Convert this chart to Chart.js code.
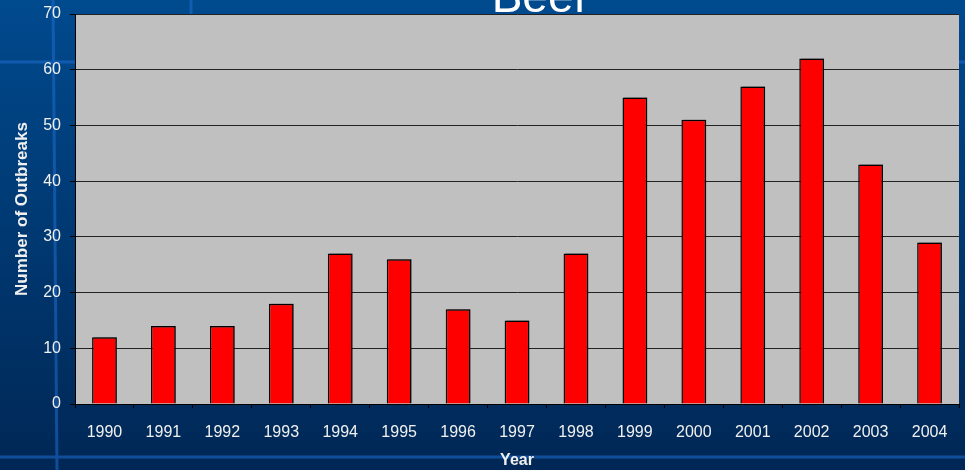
<!DOCTYPE html>
<html>
<head>
<meta charset="utf-8">
<script src="https://cdn.jsdelivr.net/npm/chart.js@4"></script>
<style>
  html, body { margin: 0; padding: 0; background: #003a75; }
  #wrap { width: 965px; height: 470px; position: relative; }
</style>
</head>
<body>
<div id="wrap"><canvas id="myChart"></canvas></div>
<script>
const years = ['1990', '1991', '1992', '1993', '1994', '1995', '1996', '1997', '1998', '1999', '2000', '2001', '2002', '2003', '2004'];
const outbreaks = [12, 14, 14, 18, 27, 26, 17, 15, 27, 55, 51, 57, 62, 43, 29];
const yTicks = [0, 10, 20, 30, 40, 50, 60, 70];

const FONT = 'Arial, "Liberation Sans", sans-serif';

// slide-style blue backdrop, grey plot area and the half hidden title
const backdrop = {
    id: 'backdrop',
    beforeDraw(chart) {
        const c = chart.ctx;
        const w = chart.width, h = chart.height;
        const g = c.createLinearGradient(0, 0, 0, h);
        g.addColorStop(0, '#004a8e');
        g.addColorStop(1, '#002755');
        c.save();
        c.fillStyle = g;
        c.fillRect(0, 0, w, h);
        c.strokeStyle = 'rgba(30,110,210,0.55)';
        c.lineWidth = 3;
        c.beginPath();
        c.moveTo(0, 62); c.lineTo(w, 62);
        c.moveTo(0, 457); c.lineTo(w, 457);
        c.moveTo(53, 0); c.lineTo(57, h);
        c.moveTo(191, 0); c.lineTo(191, 20);
        c.stroke();
        c.fillStyle = '#ffffff';
        c.font = '46px ' + FONT;
        c.textAlign = 'center';
        c.textBaseline = 'alphabetic';
        c.fillText('Beef', 539, 12);
        const a = chart.chartArea;
        c.fillStyle = '#c0c0c0';
        c.fillRect(a.left, a.top, a.right - a.left, a.bottom - a.top);
        c.strokeStyle = '#808080';
        c.lineWidth = 1;
        c.beginPath();
        c.moveTo(a.left, a.top + 0.5); c.lineTo(a.right, a.top + 0.5);
        c.stroke();
        c.restore();
    },
    // small grey drop shadow behind the bars
    beforeDatasetsDraw(chart) {
        const c = chart.ctx;
        c.save();
        c.shadowColor = 'rgba(0,0,0,0.35)';
        c.shadowOffsetX = 2;
        c.shadowOffsetY = -1;
        c.shadowBlur = 0;
    },
    afterDatasetsDraw(chart) {
        chart.ctx.restore();
    }
};

const ctx = document.getElementById('myChart');

new Chart(ctx, {
    type: 'bar',
    data: {
        labels: years,
        datasets: [{
            label: 'Outbreaks',
            data: outbreaks,
            backgroundColor: '#ff0000',
            borderColor: '#000000',
            borderWidth: 1.5,
            categoryPercentage: 1,
            barPercentage: 0.42
        }]
    },
    options: {
        responsive: true,
        maintainAspectRatio: false,
        animation: false,
        layout: { padding: { left: 0, right: 6, top: 14, bottom: 0 } },
        plugins: {
            legend: { display: false },
            tooltip: { enabled: false }
        },
        scales: {
            x: {
                offset: true,
                grid: {
                    offset: true,
                    drawOnChartArea: false,
                    drawTicks: true,
                    tickLength: 4,
                    color: '#000000'
                },
                border: { color: '#000000', width: 1 },
                ticks: {
                    color: '#f0f0f0',
                    font: { family: FONT, size: 16 },
                    padding: 15,
                    maxRotation: 0
                },
                title: {
                    display: true,
                    text: 'Year',
                    color: '#f0f0f0',
                    font: { family: FONT, size: 16, weight: 'bold' },
                    padding: { top: 4, bottom: 0 }
                },
                afterFit(scale) {
                    scale.height = 66;
                    scale.paddingLeft = 0;
                    scale.paddingRight = 0;
                }
            },
            y: {
                min: 0,
                max: 70,
                afterBuildTicks(scale) {
                    scale.ticks = yTicks.map(v => ({ value: v }));
                },
                grid: {
                    color: '#222222',
                    drawTicks: true,
                    tickLength: 5,
                    tickColor: '#000000'
                },
                border: { color: '#000000', width: 1 },
                ticks: {
                    color: '#f0f0f0',
                    font: { family: FONT, size: 16 },
                    padding: 9
                },
                title: {
                    display: true,
                    text: 'Number of Outbreaks',
                    color: '#f0f0f0',
                    font: { family: FONT, size: 17, weight: 'bold' },
                    padding: { top: 12, bottom: 0 }
                },
                afterFit(scale) {
                    scale.width = 75;
                    scale.paddingTop = 0;
                    scale.paddingBottom = 0;
                }
            }
        }
    },
    plugins: [backdrop]
});
</script>
</body>
</html>
